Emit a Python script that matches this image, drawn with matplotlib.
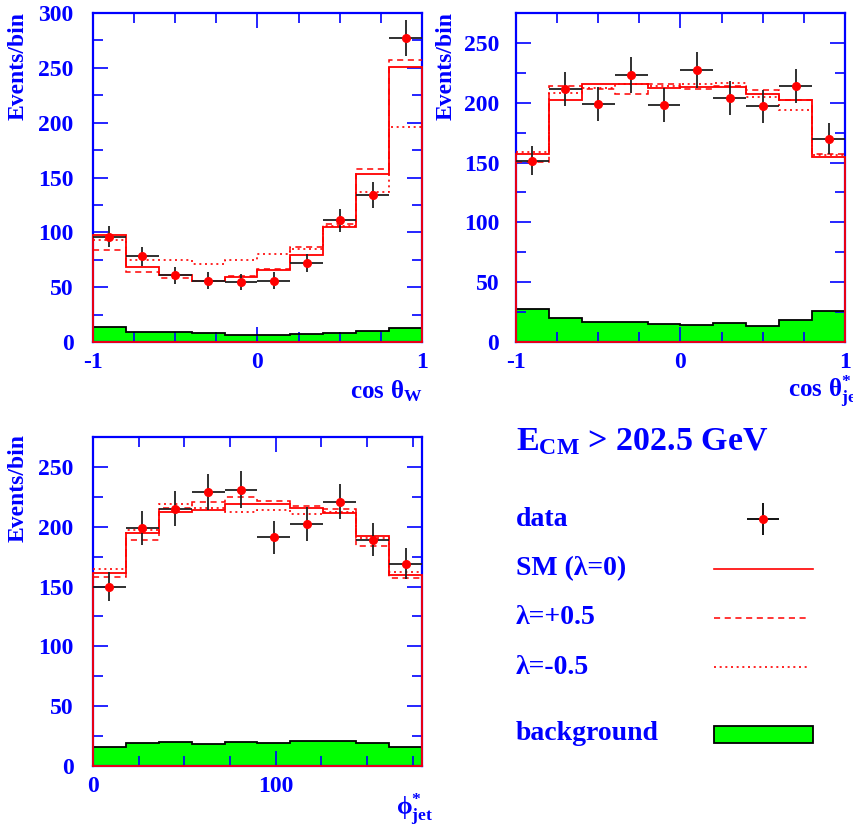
import numpy as np
import matplotlib
matplotlib.use("Agg")
import matplotlib.pyplot as plt
from matplotlib.ticker import MultipleLocator, FixedLocator

# ---- binning ----
cos_edges = np.linspace(-1.0, 1.0, 11)
phi_edges = np.linspace(0.0, 180.0, 11)

# ---- cos theta_W ----
cw_data = [96, 78, 61, 56, 55, 56, 72, 111, 134, 277]
cw_err = [9.8, 8.8, 7.8, 7.5, 7.4, 7.5, 8.5, 10.5, 11.6, 16.6]
cw_sm = [98, 68, 61, 56, 59, 66, 79, 105, 153, 251]
cw_plus = [84, 64, 58, 56, 60, 67, 87, 108, 158, 257]
cw_minus = [93, 75, 74.5, 71, 75, 80, 85, 106, 137, 196]
cw_bkg = [14, 9, 9, 8, 6.5, 6.5, 7.5, 8, 10, 12.5]

# ---- cos theta*_jet ----
cj_data = [151.5, 211.5, 199, 223, 198, 227, 204, 197, 214, 170]
cj_err = [12.3, 14.6, 14.1, 14.9, 14.1, 15.1, 14.3, 14.0, 14.6, 13.0]
cj_sm = [157.5, 202, 215.5, 216, 212, 213.5, 213.5, 207.5, 202, 154.5]
cj_plus = [150.5, 214, 211.5, 207, 215.5, 211.5, 214, 211, 202, 157]
cj_minus = [158.5, 208, 212, 216, 214.3, 215.4, 216.8, 204.5, 194.2, 156.3]
cj_bkg = [28, 20, 17, 16.5, 15.3, 14.5, 15.6, 13.7, 18.4, 25.6]

# ---- phi*_jet ----
pj_data = [150, 199, 215, 229, 231, 191, 202, 221, 189, 169]
pj_err = [12.2, 14.1, 14.6, 15.1, 15.2, 13.8, 14.2, 14.9, 13.7, 13.0]
pj_sm = [161, 194.5, 212, 214, 218.6, 218.6, 215.8, 211.1, 192.1, 159.6]
pj_plus = [158, 189, 216, 221, 224.7, 221.4, 217.2, 214.5, 183.8, 156.8]
pj_minus = [164.5, 197, 218.6, 216, 212.5, 213.9, 210.3, 212.5, 190.2, 162.3]
pj_bkg = [16, 19, 20.3, 18.4, 19.8, 19.2, 20.6, 20.6, 19.2, 15.6]

legend_labels = ["data", "SM (λ=0)", "λ=+0.5", "λ=-0.5", "background"]
title_text = r"$\mathrm{E_{CM}}$ > 202.5 GeV"

BLUE = "#0000ff"
RED = "#ff0000"
GREEN = "#00ff00"

plt.rcParams["font.family"] = ["Liberation Serif", "DejaVu Serif"]
plt.rcParams["font.weight"] = "bold"
plt.rcParams["mathtext.fontset"] = "custom"
plt.rcParams["mathtext.rm"] = "Liberation Serif:bold"
plt.rcParams["mathtext.it"] = "Liberation Serif:bold"
plt.rcParams["mathtext.bf"] = "Liberation Serif:bold"

W, H = 854, 831
fig = plt.figure(figsize=(W / 100, H / 100), dpi=100)


def px_axes(x0, y0, x1, y1):
    return fig.add_axes([x0 / W, 1 - y1 / H, (x1 - x0) / W, (y1 - y0) / H])


def draw_panel(ax, edges, data, err, sm, plus, minus, bkg, ymax,
               xmajor, xminor, ypad):
    ax.stairs(bkg, edges, baseline=0, fill=True, color=GREEN, lw=0, zorder=1)
    ax.stairs(bkg, edges, baseline=None, color="black", lw=1.3, zorder=2)
    ax.stairs(minus, edges, baseline=None, color=RED, lw=1.2,
              ls=(0, (1.2, 2.2)), zorder=3)
    ax.stairs(plus, edges, baseline=None, color=RED, lw=1.1,
              ls=(0, (4, 3)), zorder=3)
    ax.stairs(sm, edges, baseline=0, color=RED, lw=1.3, zorder=6,
              clip_on=False)
    ax.plot([edges[0], edges[-1]], [0, 0], color=RED, lw=1.3, zorder=6,
            clip_on=False)

    centers = 0.5 * (edges[:-1] + edges[1:])
    half = 0.5 * np.diff(edges)
    ax.errorbar(centers, data, xerr=half, yerr=err, fmt="o", ecolor="#202020",
                elinewidth=1.3, capsize=0, mfc=RED, mec=RED, ms=5.5, zorder=7)

    ax.set_xlim(edges[0], edges[-1])
    ax.set_ylim(0, ymax)
    ax.xaxis.set_major_locator(FixedLocator(xmajor))
    ax.xaxis.set_minor_locator(FixedLocator(xminor))
    ax.yaxis.set_major_locator(MultipleLocator(50))
    ax.yaxis.set_minor_locator(MultipleLocator(25))
    ax.tick_params(which="both", direction="in", top=True, right=True,
                   color=BLUE, labelcolor=BLUE, labelsize=17, width=1.2)
    ax.tick_params(which="major", length=11)
    ax.tick_params(which="minor", length=7)
    ax.tick_params(axis="x", pad=7)
    ax.tick_params(axis="y", pad=ypad)
    for s in ax.spines.values():
        s.set_color(BLUE)
        s.set_linewidth(1.6)
    for lab in ax.get_xticklabels() + ax.get_yticklabels():
        lab.set_fontweight("bold")


cos_major = [-1, 0, 1]
cos_minor = [-0.75, -0.5, -0.25, 0.25, 0.5, 0.75]

ax1 = px_axes(93, 13, 422, 342)
draw_panel(ax1, cos_edges, cw_data, cw_err, cw_sm, cw_plus, cw_minus, cw_bkg,
           300, cos_major, cos_minor, 14)
ax1.set_xticklabels(["-1", "0", "1"])

ax2 = px_axes(516, 13, 845, 342)
draw_panel(ax2, cos_edges, cj_data, cj_err, cj_sm, cj_plus, cj_minus, cj_bkg,
           275, cos_major, cos_minor, 12)
ax2.set_xticklabels(["-1", "0", "1"])

ax3 = px_axes(93, 437, 422, 766)
draw_panel(ax3, phi_edges, pj_data, pj_err, pj_sm, pj_plus, pj_minus, pj_bkg,
           275, [0, 100], [25, 50, 75, 125, 150, 175], 14)
ax3.set_xticklabels(["0", "100"])


def ftext(x, y, s, **kw):
    kw.setdefault("color", BLUE)
    kw.setdefault("fontweight", "bold")
    return fig.text(x / W, 1 - y / H, s, **kw)


# axis titles
ftext(18, 12, "Events/bin", rotation=90, ha="center", va="top", fontsize=17)
ftext(446, 12, "Events/bin", rotation=90, ha="center", va="top", fontsize=17)
ftext(18, 434, "Events/bin", rotation=90, ha="center", va="top", fontsize=17)
ftext(423, 398, r"$\mathrm{cos\ \theta_{W}}$", ha="right", va="baseline",
      fontsize=18)
ftext(788, 398, r"$\mathrm{cos\ \theta^{*}_{jet}}$", ha="left", va="baseline",
      fontsize=18)
ftext(433, 816, r"$\mathrm{\phi^{*}_{jet}}$", ha="right", va="baseline",
      fontsize=18)

# key panel
ftext(516, 450, title_text, ha="left", va="baseline", fontsize=24.5)
row_y = [520, 569, 618, 668, 734]
for lab, y in zip(legend_labels, row_y):
    ftext(516, y, lab, ha="left", va="center", fontsize=20)

key = fig.add_axes([0, 0, 1, 1])
key.set_xlim(0, W)
key.set_ylim(H, 0)
key.axis("off")
key.errorbar([763], [519], xerr=[16], yerr=[16], fmt="o", ecolor="black",
             elinewidth=1.3, capsize=0, mfc=RED, mec=RED, ms=5.5)
key.plot([714, 813], [569, 569], color=RED, lw=1.2)
key.plot([714, 810], [618, 618], color=RED, lw=1.1, ls=(0, (4, 3)))
key.plot([714, 810], [667, 667], color=RED, lw=1.2, ls=(0, (1.2, 2.2)))
key.add_patch(plt.Rectangle((714, 726), 99, 17, facecolor=GREEN,
                            edgecolor="black", lw=1.3))

fig.savefig("out.png", dpi=100)
